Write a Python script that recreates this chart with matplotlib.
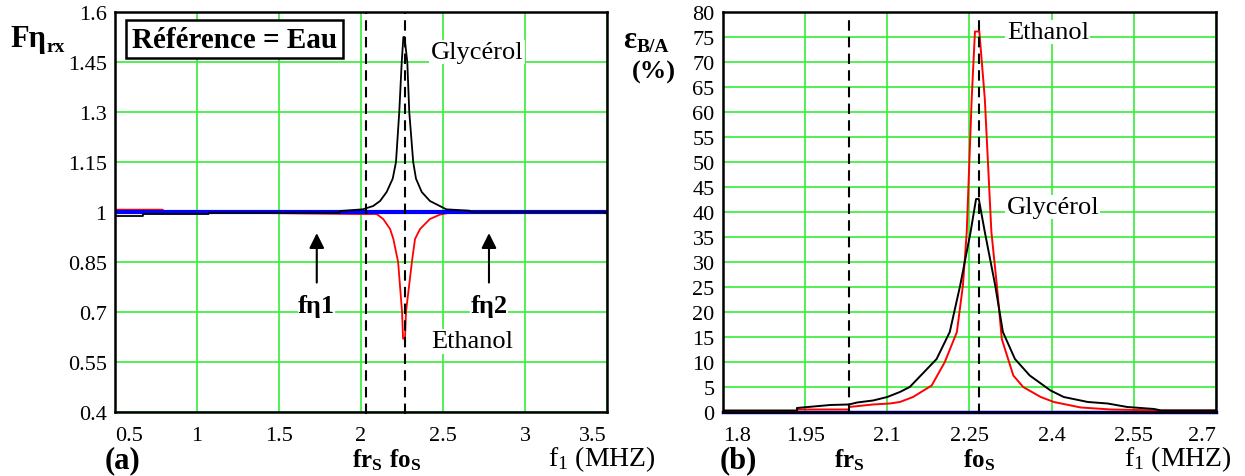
import numpy as np
import matplotlib.pyplot as plt

plt.rcParams['font.family'] = ['Liberation Serif', 'DejaVu Serif']
plt.rcParams['mathtext.fontset'] = 'custom'
plt.rcParams['mathtext.rm'] = 'Liberation Serif'
plt.rcParams['mathtext.it'] = 'Liberation Serif:italic'
plt.rcParams['mathtext.bf'] = 'Liberation Serif:bold'

# === (a) Fη_rx, référence = eau ===
glyc_a_x = [0.5, 0.67, 0.67, 1.07, 1.07, 1.87, 1.87, 2.01, 2.074, 2.116, 2.156, 2.193,
            2.213, 2.233, 2.248, 2.258, 2.265, 2.282, 2.294, 2.318, 2.335, 2.37, 2.42,
            2.48, 2.52, 2.66, 2.67, 3.48, 3.5]
glyc_a_y = [0.988, 0.988, 0.994, 0.994, 0.998, 0.998, 1.003, 1.008, 1.018, 1.033, 1.06,
            1.1, 1.15, 1.3, 1.45, 1.525, 1.525, 1.45, 1.3, 1.15, 1.1, 1.06, 1.033,
            1.018, 1.008, 1.004, 1.0, 1.0, 0.995]
eth_a_x = [0.5, 0.79, 0.8, 1.97, 2.095, 2.135, 2.177, 2.197, 2.226, 2.25, 2.256, 2.268,
           2.274, 2.31, 2.329, 2.36, 2.42, 2.48, 2.56, 3.5]
eth_a_y = [1.007, 1.007, 1.0, 0.994, 0.994, 0.979, 0.949, 0.919, 0.85, 0.7, 0.62, 0.62,
           0.7, 0.85, 0.919, 0.949, 0.979, 0.992, 1.0, 1.0]
ref_a_x = [0.5, 3.5]
ref_a_y = [1.0, 1.0]
xticks_a = [0.5, 1, 1.5, 2, 2.5, 3, 3.5]
yticks_a = [0.4, 0.55, 0.7, 0.85, 1, 1.15, 1.3, 1.45, 1.6]
fr_s = 2.033
fo_s = 2.265

# === (b) ε_B/A (%) ===
eth_b_x = [1.8, 1.935, 1.935, 2.03, 2.03, 2.074, 2.105, 2.123, 2.147, 2.181, 2.205,
           2.227, 2.238, 2.245, 2.254, 2.26, 2.268, 2.278, 2.29, 2.3, 2.309, 2.33,
           2.348, 2.38, 2.404, 2.453, 2.508, 2.6, 2.7]
eth_b_y = [0.0, 0.0, 0.5, 0.5, 1.0, 1.5, 1.7, 2.0, 3.0, 5.3, 10.0,
           16.0, 25.3, 36.0, 62.6, 76.1, 76.1, 62.6, 36.0, 25.3, 14.6, 7.3,
           5.0, 3.0, 2.0, 0.9, 0.5, 0.3, 0.3]
glyc_b_x = [1.8, 1.935, 1.935, 1.996, 2.03, 2.045, 2.074, 2.10, 2.123, 2.141, 2.19,
            2.214, 2.233, 2.252, 2.262, 2.267, 2.278, 2.297, 2.311, 2.333, 2.36,
            2.398, 2.422, 2.466, 2.502, 2.538, 2.587, 2.6, 2.7]
glyc_b_y = [0.3, 0.3, 0.8, 1.4, 1.5, 1.9, 2.3, 3.0, 4.0, 5.0, 10.6,
            16.0, 25.3, 36.0, 42.6, 42.6, 36.0, 25.3, 16.0, 10.6, 7.3,
            4.3, 3.0, 2.0, 1.7, 1.0, 0.6, 0.3, 0.3]
ref_b_x = [1.8, 2.7]
ref_b_y = [0.0, 0.0]
xticks_b = [1.8, 1.95, 2.1, 2.25, 2.4, 2.55, 2.7]
yticks_b = list(range(0, 85, 5))
fr_s_b = 2.03
fo_s_b = 2.267

GREEN = '#33ee33'
DASH = (0, (5, 3))

fig = plt.figure(figsize=(12.45, 4.77), dpi=100)
ax_a = fig.add_axes([0.0924, 0.1342, 0.3952, 0.8385])
ax_b = fig.add_axes([0.5807, 0.1342, 0.3960, 0.8385])


def style_axes(ax, xticks, yticks, xlim, ylim):
    ax.set_xlim(*xlim)
    ax.set_ylim(*ylim)
    ax.set_xticks(xticks)
    ax.set_yticks(yticks)
    ax.set_xticklabels([f"{t:g}" for t in xticks])
    ax.set_yticklabels([f"{t:g}" for t in yticks])
    ax.grid(True, color=GREEN, lw=1.2, zorder=0)
    ax.set_axisbelow(True)
    ax.tick_params(length=0, labelsize=16, pad=6)
    ax.tick_params(axis='x', pad=10)
    for s in ax.spines.values():
        s.set_linewidth(1.8)
        s.set_zorder(5)
    labs = ax.get_xticklabels()
    labs[0].set_ha('left')
    labs[-1].set_ha('right')


# --- panel (a) ---
style_axes(ax_a, xticks_a, yticks_a, (0.5, 3.5), (0.4, 1.6))
ax_a.plot(ref_a_x, ref_a_y, color='#0000ff', lw=3, zorder=3)
ax_a.plot(eth_a_x, eth_a_y, color='red', lw=1.3, zorder=2)
ax_a.plot(glyc_a_x, glyc_a_y, color='black', lw=1.3, zorder=4)
for xv in (fr_s, fo_s):
    ax_a.plot([xv, xv], [0.395, 1.6], color='black', lw=1.5, ls=DASH, clip_on=False, zorder=4)

ax_a.text(1.226, 1.519, "Référence = Eau", fontsize=21, fontweight='bold', ha='center',
          va='center', zorder=6,
          bbox=dict(boxstyle='square,pad=0.2', fc='white', ec='black', lw=1.8))
ax_a.text(2.707, 1.48, "Glycérol", fontsize=19, ha='center', va='center', zorder=6,
          bbox=dict(fc='white', ec='none', pad=1))
ax_a.text(2.68, 0.612, "Ethanol", fontsize=19, ha='center', va='center', zorder=6,
          bbox=dict(fc='white', ec='none', pad=1))
for xv, lab in ((1.73, "fη1"), (2.78, "fη2")):
    ax_a.annotate("", xy=(xv, 0.945), xytext=(xv, 0.78),
                  arrowprops=dict(arrowstyle='-|>,head_width=0.45,head_length=0.9',
                                  color='black', lw=1.5), zorder=6)
    ax_a.text(xv, 0.72, lab, fontsize=19, fontweight='bold', ha='center', va='center',
              zorder=6, bbox=dict(fc='white', ec='none', pad=0))

# --- panel (b) ---
style_axes(ax_b, xticks_b, yticks_b, (1.8, 2.7), (0, 80))
ax_b.plot(ref_b_x, ref_b_y, color='#0000ff', lw=2.5, zorder=3, clip_on=False)
ax_b.plot(eth_b_x, eth_b_y, color='red', lw=1.4, zorder=4)
ax_b.plot(glyc_b_x, glyc_b_y, color='black', lw=1.4, zorder=4)
for xv in (fr_s_b, fo_s_b):
    ax_b.plot([xv, xv], [-0.5, 78.6], color='black', lw=1.5, ls=DASH, clip_on=False, zorder=4)

ax_b.text(2.393, 76, "Ethanol", fontsize=19, ha='center', va='center', zorder=6,
          bbox=dict(fc='white', ec='none', pad=1))
ax_b.text(2.402, 41, "Glycérol", fontsize=19, ha='center', va='center', zorder=6,
          bbox=dict(fc='white', ec='none', pad=1))

# --- étiquettes hors axes ---
H = 477.0
W = 1245.0


def ftext(x, y, s, **kw):
    fig.text(x / W, 1 - y / H, s, **kw)


ftext(10, 40, "Fη", fontsize=22, fontweight='bold', va='center', ha='left')
ftext(47, 48, "rx", fontsize=14, fontweight='bold', va='center', ha='left')
ftext(623, 40, "ε", fontsize=22, fontweight='bold', va='center', ha='left')
ftext(637, 48, "B/A", fontsize=14, fontweight='bold', va='center', ha='left')
ftext(654, 72, "(%)", fontsize=19, fontweight='bold', va='center', ha='center')

ftext(123, 461, "(a)", fontsize=22, fontweight='bold', va='center', ha='center')
ftext(738, 461, "(b)", fontsize=22, fontweight='bold', va='center', ha='center')
for xp in (367, 849):
    ftext(xp, 460, r"$\mathbf{fr_S}$", fontsize=18, va='center', ha='center')
for xp in (405, 979):
    ftext(xp, 460, r"$\mathbf{fo_S}$", fontsize=18, va='center', ha='center')
ftext(602, 459, r"f$_1$ (MHZ)", fontsize=20, va='center', ha='center')
ftext(1178, 459, r"f$_1$ (MHZ)", fontsize=20, va='center', ha='center')

fig.savefig("out.png", dpi=100)
